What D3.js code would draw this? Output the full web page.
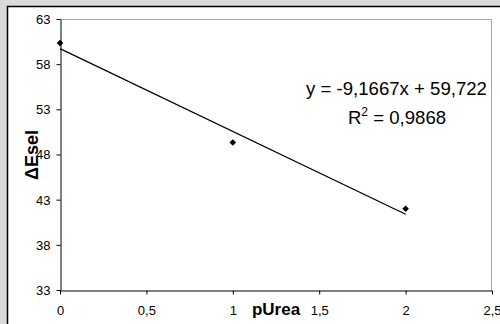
<!DOCTYPE html>
<html><head><meta charset="utf-8">
<script src="https://cdn.jsdelivr.net/npm/d3@7"></script>
<style>html,body{margin:0;padding:0;background:#d9d9d9;}svg{display:block;}</style>
</head><body>
<svg id="c" width="500" height="324"></svg>
<script>
const xValues = [0, 1, 2];
const yValues = [60.33, 49.33, 42.0];
const xTicks = [0, 0.5, 1, 1.5, 2, 2.5];
const yTicks = [33, 38, 43, 48, 53, 58, 63];
const slope = -9.1667, intercept = 59.722;
const trendX = [0, 2];
const eqText = "y = -9,1667x + 59,722";
const r2Value = "0,9868";
const xTitle = "pUrea", yTitle = "\u0394Esel";

const svg = d3.select("#c");
const fmt = v => String(v).replace(".", ",");
const F = "Liberation Sans, Arial, sans-serif";

// outer frame
svg.append("rect").attr("x", 0).attr("y", 0).attr("width", 500).attr("height", 324).attr("fill", "#d9d9d9");
svg.append("rect").attr("x", 7.5).attr("y", 6.5).attr("width", 520).attr("height", 340)
  .attr("fill", "#fff").attr("stroke", "#000").attr("stroke-width", 1.5);

const x = d3.scaleLinear().domain([0, 2.5]).range([60, 492]);
const y = d3.scaleLinear().domain([33, 63]).range([290, 19]);

// plot border (top/right gray)
svg.append("path").attr("d", `M${x(0)},${y(63)+0.5}H${x(2.5)-0.5}V${y(33)}`)
  .attr("fill", "none").attr("stroke", "#a6a6a6").attr("stroke-width", 1);

// axes
const gx = svg.append("g").attr("transform", `translate(0,${y(33)+0.5})`)
  .call(d3.axisBottom(x).tickValues(xTicks).tickFormat(fmt).tickSize(4).tickSizeOuter(0));
const gy = svg.append("g").attr("transform", `translate(${x(0)+0.5},0)`)
  .call(d3.axisLeft(y).tickValues(yTicks).tickSize(4).tickSizeOuter(0));
[gx, gy].forEach(g => {
  g.select(".domain").attr("stroke", "#000");
  g.selectAll(".tick line").attr("stroke", "#000");
  g.selectAll("text").attr("font-family", F).attr("font-size", 13).attr("fill", "#000");
});
gx.selectAll("text").attr("dy", 0).attr("y", 24);
gy.selectAll("text").attr("x", -10).attr("dy", "0.34em");

// trend line
svg.append("line")
  .attr("x1", x(trendX[0])).attr("y1", y(slope*trendX[0]+intercept))
  .attr("x2", x(trendX[1])).attr("y2", y(slope*trendX[1]+intercept))
  .attr("stroke", "#000").attr("stroke-width", 1.2);

// points (diamonds)
const pts = xValues.map((v, i) => [v, yValues[i]]);
svg.selectAll("path.pt").data(pts).enter().append("path").attr("class", "pt")
  .attr("d", d => { const cx = x(d[0]), cy = y(d[1]), r = 3.3;
    return `M${cx},${cy-r}L${cx+r},${cy}L${cx},${cy+r}L${cx-r},${cy}Z`; })
  .attr("fill", "#000");

// equation
svg.append("text").attr("x", 396.5).attr("y", 95).attr("text-anchor", "middle")
  .attr("font-family", F).attr("font-size", 18.6).text(eqText);
const r2 = svg.append("text").attr("x", 397).attr("y", 124).attr("text-anchor", "middle")
  .attr("font-family", F).attr("font-size", 18.6);
r2.append("tspan").text("R");
r2.append("tspan").attr("dy", -8).attr("font-size", 12).text("2");
r2.append("tspan").attr("dy", 8).text(" = " + r2Value);

// axis titles
svg.append("text").attr("x", 276).attr("y", 315).attr("text-anchor", "middle")
  .attr("font-family", F).attr("font-size", 17).attr("font-weight", "bold").text(xTitle);
svg.append("text").attr("transform", "translate(38,155) rotate(-90)").attr("text-anchor", "middle")
  .attr("font-family", F).attr("font-size", 18).attr("font-weight", "bold").text(yTitle);
</script>
</body></html>
